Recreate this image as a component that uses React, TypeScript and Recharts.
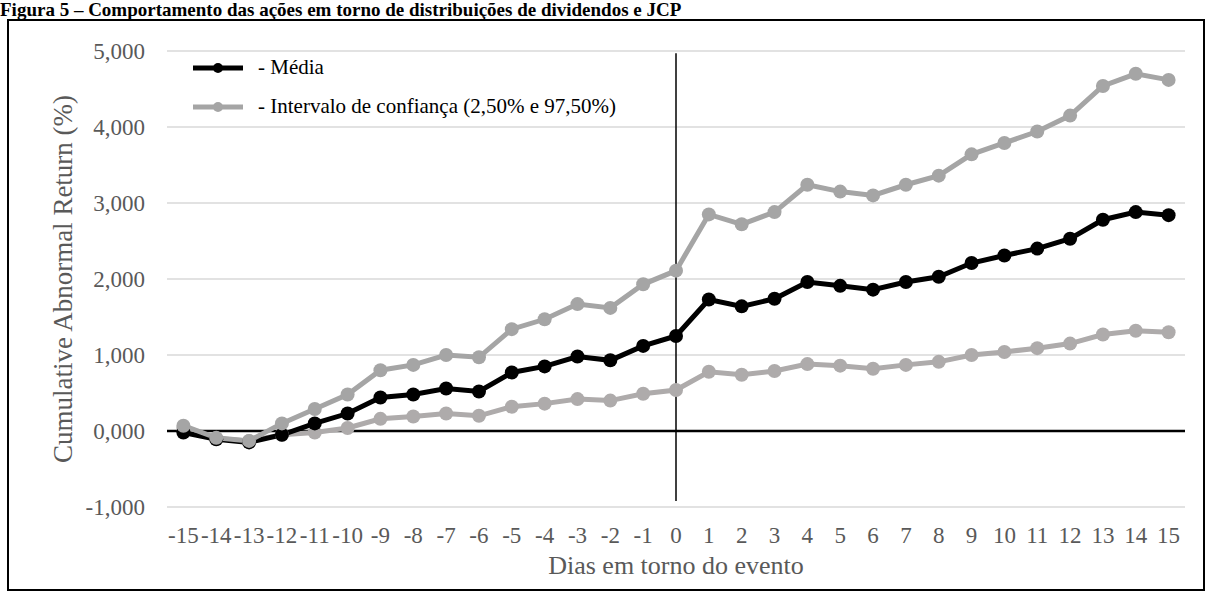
import React from "react";
import {
  LineChart,
  Line,
  XAxis,
  YAxis,
  CartesianGrid,
  ReferenceLine,
  Legend,
} from "recharts";

// days around the event
const days = [-15, -14, -13, -12, -11, -10, -9, -8, -7, -6, -5, -4, -3, -2, -1, 0, 1, 2, 3, 4, 5, 6, 7, 8, 9, 10, 11, 12, 13, 14, 15];

// cumulative abnormal return (%)
const media = [-0.02, -0.11, -0.15, -0.05, 0.1, 0.23, 0.44, 0.48, 0.56, 0.52, 0.77, 0.85, 0.98, 0.93, 1.12, 1.25, 1.73, 1.64, 1.74, 1.96, 1.91, 1.86, 1.96, 2.03, 2.21, 2.31, 2.4, 2.53, 2.78, 2.88, 2.84];
const upper = [0.07, -0.09, -0.13, 0.1, 0.29, 0.48, 0.8, 0.87, 1.0, 0.97, 1.34, 1.47, 1.67, 1.62, 1.93, 2.11, 2.85, 2.72, 2.88, 3.24, 3.15, 3.1, 3.24, 3.36, 3.64, 3.79, 3.94, 4.15, 4.54, 4.7, 4.62];
const lower = [0.04, -0.1, -0.13, -0.05, -0.02, 0.04, 0.16, 0.19, 0.23, 0.2, 0.32, 0.36, 0.42, 0.4, 0.49, 0.54, 0.78, 0.74, 0.79, 0.88, 0.86, 0.82, 0.87, 0.91, 1.0, 1.04, 1.09, 1.15, 1.27, 1.32, 1.3];

const yTicks = [-1, 0, 1, 2, 3, 4, 5];

// vertical marker at the event day
const eventDay = 0;
const eventSpan = [4.97, -0.92];

const legendItems = [
  { label: "- Média", color: "#000000" },
  { label: "- Intervalo de confiança (2,50% e 97,50%)", color: "#A5A5A5" },
];

const data = days.map((day, i) => ({
  day,
  media: media[i],
  upper: upper[i],
  lower: lower[i],
}));

const serif = '"Liberation Serif", "Times New Roman", serif';
const axisGray = "#595959";

const fmt = (v: number) => v.toFixed(3).replace(".", ",");

function LegendRows() {
  return (
    <div style={{ fontFamily: serif, fontSize: 21, color: "#000" }}>
      {legendItems.map((it) => (
        <div key={it.label} style={{ display: "flex", alignItems: "center", height: 39 }}>
          <svg width={50} height={14} style={{ marginRight: 15 }}>
            <line x1={0} y1={7} x2={50} y2={7} stroke={it.color} strokeWidth={5} />
            <circle cx={25} cy={7} r={5} fill={it.color} />
          </svg>
          <span style={{ whiteSpace: "nowrap" }}>{it.label}</span>
        </div>
      ))}
    </div>
  );
}

export default function App() {
  return (
    <div style={{ position: "absolute", left: 0, top: 0, width: 1207, height: 596, background: "#fff", overflow: "hidden" }}>
      <div
        style={{
          position: "absolute",
          left: 0,
          top: 0,
          fontFamily: serif,
          fontWeight: "bold",
          fontSize: 19,
          lineHeight: 1,
          whiteSpace: "nowrap",
        }}
      >
        Figura 5 – Comportamento das ações em torno de distribuições de dividendos e JCP
      </div>
      <div
        style={{
          position: "absolute",
          left: 7,
          top: 19,
          width: 1198,
          height: 572,
          boxSizing: "border-box",
          border: "2px solid #000",
        }}
      />
      <div style={{ position: "absolute", left: 0, top: 0 }}>
        <LineChart width={1207} height={596} data={data} margin={{ top: 51, right: 22, left: 17, bottom: 9 }}>
          <CartesianGrid vertical={false} stroke="#D9D9D9" strokeWidth={1.5} />
          <XAxis
            dataKey="day"
            interval={0}
            height={80}
            padding={{ left: 16.4, right: 16.4 }}
            axisLine={false}
            tickLine={false}
            tickSize={0}
            tickMargin={20}
            tick={{ fill: axisGray, fontSize: 23, fontFamily: serif }}
            label={{
              value: "Dias em torno do evento",
              position: "insideBottom",
              offset: 13,
              style: { fill: axisGray, fontSize: 26, fontFamily: serif },
            }}
          />
          <YAxis
            width={150}
            domain={[-1, 5]}
            ticks={yTicks}
            axisLine={false}
            tickLine={false}
            tickSize={0}
            tickMargin={22}
            tickFormatter={fmt}
            tick={{ fill: axisGray, fontSize: 23, fontFamily: serif }}
            label={{
              value: "Cumulative Abnormal Return (%)",
              angle: -90,
              position: "insideLeft",
              offset: 45,
              style: { textAnchor: "middle", fill: axisGray, fontSize: 27, fontFamily: serif },
            }}
          />
          <ReferenceLine y={0} stroke="#000" strokeWidth={2.5} />
          <Legend
            layout="vertical"
            align="center"
            verticalAlign="middle"
            wrapperStyle={{ left: 193, top: 48, width: "auto" }}
            content={() => <LegendRows />}
          />
          <Line
            dataKey="lower"
            stroke="#AEABAB"
            strokeWidth={5}
            dot={{ r: 7, fill: "#AEABAB", stroke: "#AEABAB", strokeWidth: 0 }}
            activeDot={false}
            isAnimationActive={false}
          />
          <Line
            dataKey="media"
            stroke="#000000"
            strokeWidth={5}
            dot={{ r: 7, fill: "#000000", stroke: "#000000", strokeWidth: 0 }}
            activeDot={false}
            isAnimationActive={false}
          />
          <Line
            dataKey="upper"
            stroke="#A5A5A5"
            strokeWidth={5}
            dot={{ r: 7, fill: "#A5A5A5", stroke: "#A5A5A5", strokeWidth: 0 }}
            activeDot={false}
            isAnimationActive={false}
          />
          <ReferenceLine
            segment={[
              { x: eventDay, y: eventSpan[0] },
              { x: eventDay, y: eventSpan[1] },
            ]}
            stroke="#000"
            strokeWidth={1.5}
          />
        </LineChart>
      </div>
    </div>
  );
}
